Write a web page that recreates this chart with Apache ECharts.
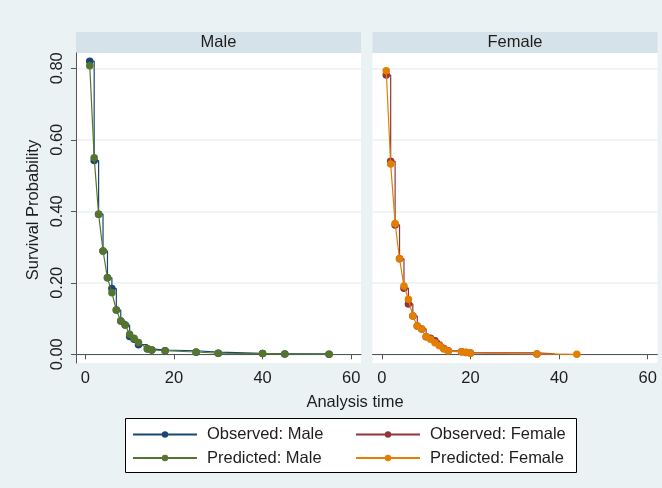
<!DOCTYPE html>
<html>
<head>
<meta charset="utf-8">
<script src="https://cdn.jsdelivr.net/npm/echarts@6/dist/echarts.min.js"></script>
<style>
  html, body { margin: 0; padding: 0; background: #eaf2f3; }
  #chart { width: 662px; height: 488px; }
</style>
</head>
<body>
<div id="chart"></div>
<script>
// Survival probability by analysis time: Kaplan-Meier (observed) vs model (predicted)
const maleTime = [1, 2, 3, 4, 5, 6, 7, 8, 9, 10, 11, 12, 14, 15, 18, 25, 30, 40, 45, 55];
const maleObserved = [0.820, 0.542, 0.392, 0.289, 0.214, 0.184, 0.124, 0.093, 0.082, 0.050, 0.042, 0.027, 0.015, 0.012, 0.010, 0.006, 0.003, 0.002, 0.001, 0.000];
const malePredicted = [0.807, 0.550, 0.392, 0.289, 0.214, 0.172, 0.124, 0.093, 0.082, 0.056, 0.045, 0.033, 0.016, 0.012, 0.010, 0.0065, 0.003, 0.002, 0.001, 0.000];

const femaleTime = [1, 2, 3, 4, 5, 6, 7, 8, 9, 10, 11, 12, 13, 14, 15, 18, 19, 20, 35, 44];
// observed female curve is recorded up to t = 35 and censored at t = 39
const femaleObserved = [0.781, 0.540, 0.362, 0.267, 0.185, 0.141, 0.107, 0.079, 0.071, 0.049, 0.045, 0.038, 0.026, 0.016, 0.010, 0.007, 0.005, 0.004, 0.001];
const femaleObservedCensor = [39, 0.001];
const femalePredicted = [0.793, 0.532, 0.366, 0.267, 0.191, 0.154, 0.107, 0.079, 0.071, 0.049, 0.042, 0.032, 0.024, 0.015, 0.009, 0.007, 0.0056, 0.003, 0.001, 0.000];

const yTicks = [0, 0.2, 0.4, 0.6, 0.8];
const xTicks = [0, 20, 40, 60];
const panelTitles = ['Male', 'Female'];

const C = {
  navy: '#1a476f', green: '#55752f', maroon: '#90353b', orange: '#e37e00',
  bg: '#eaf2f3', strip: '#d6e2e9', grid: '#eaf2f3', axis: '#555555', text: '#1e1e1e'
};
const FONT = '"Liberation Sans", Arial, Helvetica, sans-serif';
const FS = 16.5;

const zip = (xs, ys) => ys.map((y, i) => [xs[i], y]);

const panels = [
  { left: 76, width: 285 },
  { left: 372.5, width: 285 }
];
const TOP = 53, HEIGHT = 310;

function xAxisFor(i) {
  return {
    type: 'value', gridIndex: i, min: -2.1, max: 62.2,
    axisLine: { show: true, lineStyle: { color: C.axis, width: 1 } },
    axisTick: { show: true, length: 5, customValues: xTicks, lineStyle: { color: C.axis } },
    axisLabel: { customValues: xTicks, color: C.text, fontFamily: FONT, fontSize: FS, margin: 7 },
    splitLine: { show: false }
  };
}
function yAxisFor(i) {
  const first = i === 0;
  return {
    type: 'value', gridIndex: i, min: -0.0243, max: 0.8428,
    axisLine: { show: first, onZero: false, lineStyle: { color: C.axis, width: 1 } },
    axisTick: { show: first, length: 5, customValues: yTicks, lineStyle: { color: C.axis } },
    axisLabel: {
      show: first, customValues: yTicks, rotate: 90, margin: 10,
      formatter: v => v.toFixed(2), color: C.text, fontFamily: FONT, fontSize: FS
    },
    splitLine: { show: true, lineStyle: { color: C.grid, width: 1.5 } }
  };
}

function observed(name, idx, data, color) {
  return {
    name, type: 'line', xAxisIndex: idx, yAxisIndex: idx, data, step: 'end',
    symbol: 'circle', symbolSize: 7.5, showAllSymbol: true,
    lineStyle: { color, width: 1.2 }, itemStyle: { color }, animation: false, z: 3
  };
}
function predicted(name, idx, data, color) {
  return {
    name, type: 'line', xAxisIndex: idx, yAxisIndex: idx, data,
    symbol: 'circle', symbolSize: 7.5, showAllSymbol: true,
    lineStyle: { color, width: 1.2 }, itemStyle: { color }, animation: false, z: 4
  };
}

const femaleObsData = zip(femaleTime, femaleObserved);
femaleObsData.push({ value: femaleObservedCensor, symbol: 'none' });

const legendCommon = {
  orient: 'vertical', itemWidth: 64, itemHeight: 8, itemGap: 6.5, padding: 0,
  selectedMode: false,
  textStyle: { color: C.text, fontFamily: FONT, fontSize: FS, padding: [0, 0, 0, 5] }
};

const chart = echarts.init(document.getElementById('chart'), null, { renderer: 'canvas' });
chart.setOption({
  backgroundColor: C.bg,
  animation: false,
  grid: panels.map(p => ({ left: p.left, top: TOP, width: p.width, height: HEIGHT, show: true, backgroundColor: '#ffffff', borderWidth: 0 })),
  xAxis: [xAxisFor(0), xAxisFor(1)],
  yAxis: [yAxisFor(0), yAxisFor(1)],
  legend: [
    Object.assign({}, legendCommon, { left: 132, top: 426, data: ['Observed: Male', 'Predicted: Male'] }),
    Object.assign({}, legendCommon, { left: 355, top: 426, data: ['Observed: Female', 'Predicted: Female'] })
  ],
  series: [
    observed('Observed: Male', 0, zip(maleTime, maleObserved), C.navy),
    predicted('Predicted: Male', 0, zip(maleTime, malePredicted), C.green),
    observed('Observed: Female', 1, femaleObsData, C.maroon),
    predicted('Predicted: Female', 1, zip(femaleTime, femalePredicted), C.orange)
  ],
  graphic: [
    // panel title strips
    ...panels.map((p, i) => ({
      type: 'group', left: p.left, top: 32,
      children: [
        { type: 'rect', shape: { x: 0, y: 0, width: p.width, height: 21 }, style: { fill: C.strip } },
        { type: 'text', x: p.width / 2, y: 10.5, style: { text: panelTitles[i], fill: C.text, font: `${FS}px ${FONT}`, textAlign: 'center', textVerticalAlign: 'middle' } }
      ]
    })),
    // axis titles
    { type: 'text', x: 355, y: 402, style: { text: 'Analysis time', fill: C.text, font: `${FS}px ${FONT}`, textAlign: 'center', textVerticalAlign: 'middle' } },
    { type: 'text', x: 33, y: 210, rotation: Math.PI / 2, style: { text: 'Survival Probability', fill: C.text, font: `${FS}px ${FONT}`, textAlign: 'center', textVerticalAlign: 'middle' } },
    // legend frame
    { type: 'rect', z: -1, shape: { x: 125.5, y: 418.5, width: 451, height: 54 }, style: { fill: '#ffffff', stroke: '#000000', lineWidth: 1 } }
  ]
});
</script>
</body>
</html>
